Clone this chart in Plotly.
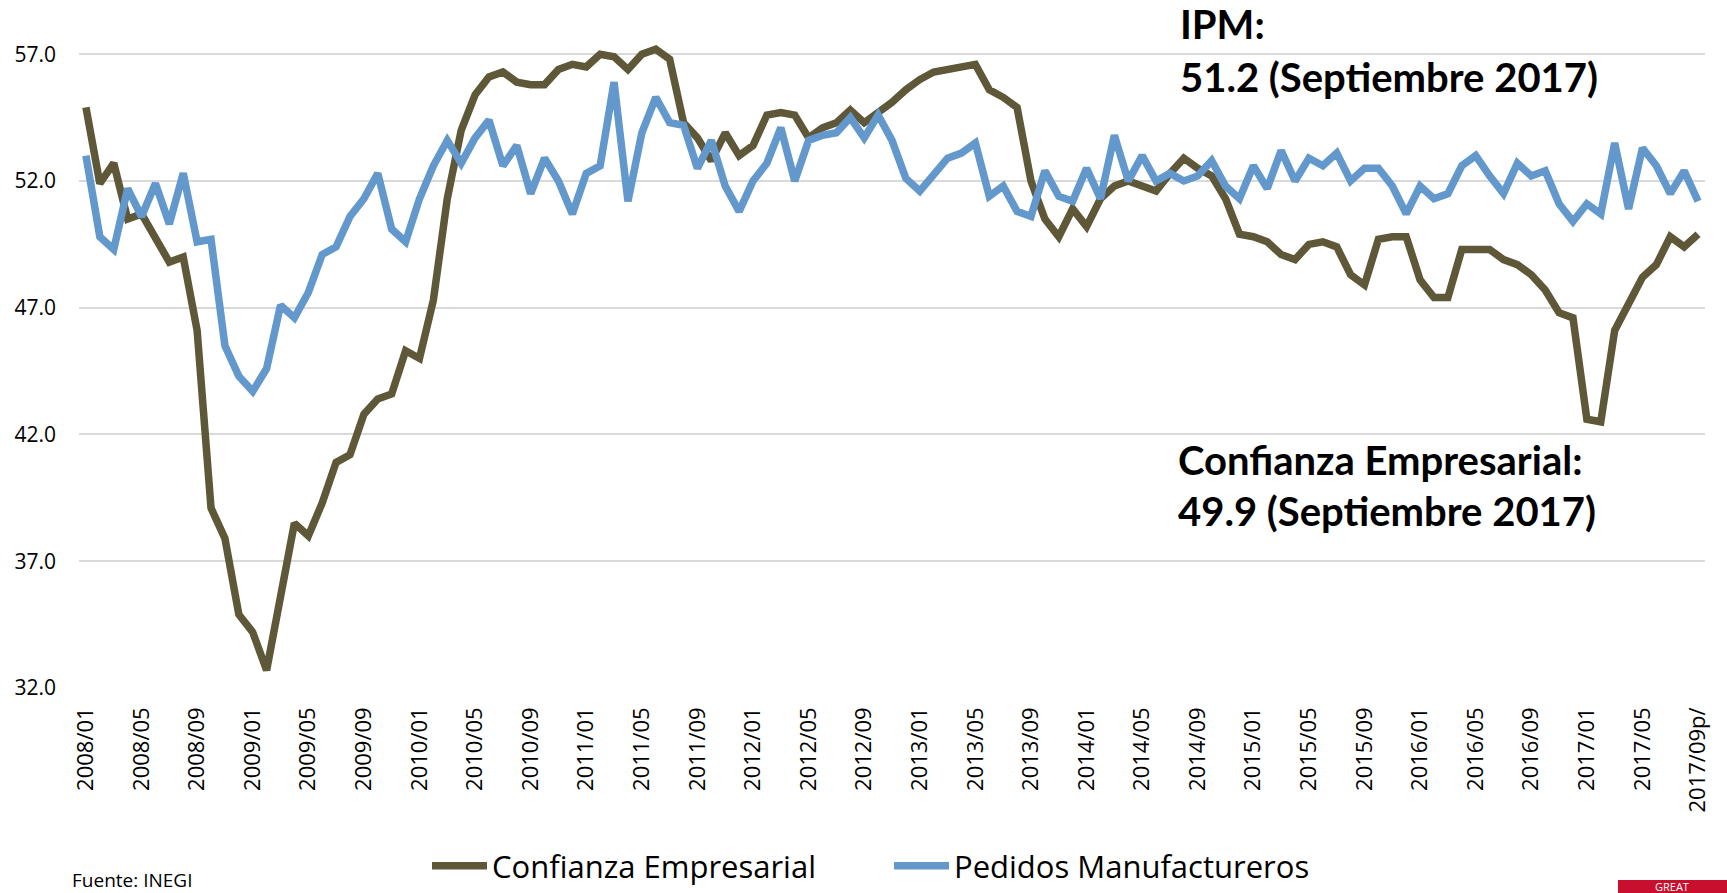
import plotly.graph_objects as go

# Monthly periods, January 2008 to September 2017 (last one preliminary)
periodos = [f"{a}/{m:02d}" for a in range(2008, 2018) for m in range(1, 13)][:117]
periodos[-1] = "2017/09p/"

confianza_empresarial = [
    54.9, 51.9, 52.7, 50.5, 50.7, 49.8, 48.8, 49.0, 46.1, 39.1, 37.9, 34.9,
    34.2, 32.7, 35.6, 38.5, 38.0, 39.3, 40.9, 41.2, 42.8, 43.4, 43.6, 45.3,
    45.0, 47.3, 51.3, 54.0, 55.4, 56.1, 56.3, 55.9, 55.8, 55.8, 56.4, 56.6,
    56.5, 57.0, 56.9, 56.4, 57.0, 57.2, 56.8, 54.3, 53.7, 52.8, 53.9, 53.0,
    53.4, 54.6, 54.7, 54.6, 53.7, 54.1, 54.3, 54.8, 54.3, 54.7, 55.1, 55.6,
    56.0, 56.3, 56.4, 56.5, 56.6, 55.6, 55.3, 54.9, 52.0, 50.5, 49.8, 50.9,
    50.2, 51.3, 51.8, 52.0, 51.8, 51.6, 52.3, 52.9, 52.5, 52.2, 51.3, 49.9,
    49.8, 49.6, 49.1, 48.9, 49.5, 49.6, 49.4, 48.3, 47.9, 49.7, 49.8, 49.8,
    48.1, 47.4, 47.4, 49.3, 49.3, 49.3, 48.9, 48.7, 48.3, 47.7, 46.8, 46.6,
    42.6, 42.5, 46.1, 47.1, 48.2, 48.7, 49.8, 49.4, 49.9,
]

pedidos_manufactureros = [
    53.0, 49.8, 49.3, 51.7, 50.6, 51.9, 50.3, 52.3, 49.6, 49.7, 45.5, 44.3,
    43.7, 44.6, 47.1, 46.6, 47.6, 49.1, 49.4, 50.6, 51.3, 52.3, 50.1, 49.6,
    51.3, 52.6, 53.6, 52.7, 53.7, 54.4, 52.6, 53.4, 51.5, 52.9, 52.0, 50.7,
    52.3, 52.6, 55.9, 51.2, 53.9, 55.3, 54.3, 54.2, 52.5, 53.6, 51.8, 50.8,
    52.0, 52.7, 54.1, 52.0, 53.6, 53.8, 53.9, 54.5, 53.7, 54.6, 53.6, 52.1,
    51.6, 52.2, 52.9, 53.1, 53.5, 51.4, 51.8, 50.8, 50.6, 52.4, 51.4, 51.2,
    52.5, 51.3, 53.8, 52.0, 53.0, 52.0, 52.3, 52.0, 52.2, 52.8, 51.8, 51.3,
    52.6, 51.7, 53.2, 52.0, 52.9, 52.6, 53.1, 52.0, 52.5, 52.5, 51.8, 50.7,
    51.8, 51.3, 51.5, 52.6, 53.0, 52.2, 51.5, 52.7, 52.2, 52.4, 51.1, 50.4,
    51.1, 50.7, 53.5, 50.9, 53.3, 52.6, 51.5, 52.4, 51.2,
]

etiquetas_x = periodos[::4]
valores_y = [32.0, 37.0, 42.0, 47.0, 52.0, 57.0]

COLOR_CONF = "#5E5839"
COLOR_PED = "#6398CD"

W, H = 1727, 893
# plot area in pixels
L, R, T, B = 79, 1705, 39, 688
Y_MIN, Y_MAX = 32.0, 57.6


def px_x(p):
    return (p - L) / (R - L)


def px_y(p):
    return (B - p) / (B - T)


fig = go.Figure()
fig.add_trace(go.Scatter(
    x=periodos, y=confianza_empresarial, mode="lines",
    name="Confianza Empresarial",
    line=dict(color=COLOR_CONF, width=7.5),
))
fig.add_trace(go.Scatter(
    x=periodos, y=pedidos_manufactureros, mode="lines",
    name="Pedidos Manufactureros",
    line=dict(color=COLOR_PED, width=7.5),
))

fig.update_xaxes(
    type="category", range=[-0.5, len(periodos) - 0.5], automargin=False,
    tickmode="array", tickvals=etiquetas_x, ticktext=etiquetas_x,
    tickangle=-90, showgrid=False, showline=False, zeroline=False,
    ticks="", ticklabelstandoff=14,
    tickfont=dict(family="Open Sans", size=22, color="#000000"),
)
fig.update_yaxes(
    range=[Y_MIN, Y_MAX], automargin=False,
    tickmode="array", tickvals=valores_y,
    ticktext=[f"{v:.1f}" for v in valores_y],
    showgrid=True, gridcolor="#D9D9D9", gridwidth=2,
    showline=False, zeroline=False, ticks="", ticklabelstandoff=22,
    tickfont=dict(family="Open Sans", size=21, color="#000000"),
)

annot_font = dict(family="Lato", size=40, color="#000000", weight="bold")
textos = [
    ("IPM:", 1178, 24),
    ("51.2 (Septiembre 2017)", 1178, 77),
    ("Confianza Empresarial:", 1176, 460),
    ("49.9 (Septiembre 2017)", 1176, 511),
]
anotaciones = [
    dict(text=t, x=px_x(x), y=px_y(y), xref="paper", yref="paper",
         xanchor="left", yanchor="middle", showarrow=False, font=annot_font)
    for t, x, y in textos
]
anotaciones.append(dict(
    text="Fuente: INEGI", x=px_x(70), y=px_y(865), xref="paper", yref="paper",
    xanchor="left", yanchor="top", showarrow=False,
    font=dict(family="Open Sans", size=19, color="#000000"),
))
anotaciones.append(dict(
    text="GREAT", x=px_x(1672), y=px_y(886.5), xref="paper", yref="paper",
    xanchor="center", yanchor="middle", showarrow=False,
    font=dict(family="Open Sans", size=11, color="#FFFFFF"),
))

fig.update_layout(
    width=W, height=H,
    margin=dict(l=L, r=W - R, t=T, b=H - B, pad=0, autoexpand=False),
    paper_bgcolor="#FFFFFF", plot_bgcolor="#FFFFFF",
    showlegend=True,
    legend=dict(
        orientation="h", x=px_x(427), y=px_y(893), xanchor="left", yanchor="bottom",
        font=dict(family="Open Sans", size=31, color="#000000"),
        itemwidth=55, entrywidth=392, bgcolor="rgba(0,0,0,0)",
    ),
    annotations=anotaciones,
    shapes=[dict(
        type="rect", xref="paper", yref="paper",
        x0=px_x(1618), x1=px_x(1727), y0=px_y(880), y1=px_y(893),
        fillcolor="#C8102E", line=dict(width=0), layer="below",
    )],
)

fig.write_html("out.html", config={"displayModeBar": False},
               post_script="document.body.style.margin='0';")
